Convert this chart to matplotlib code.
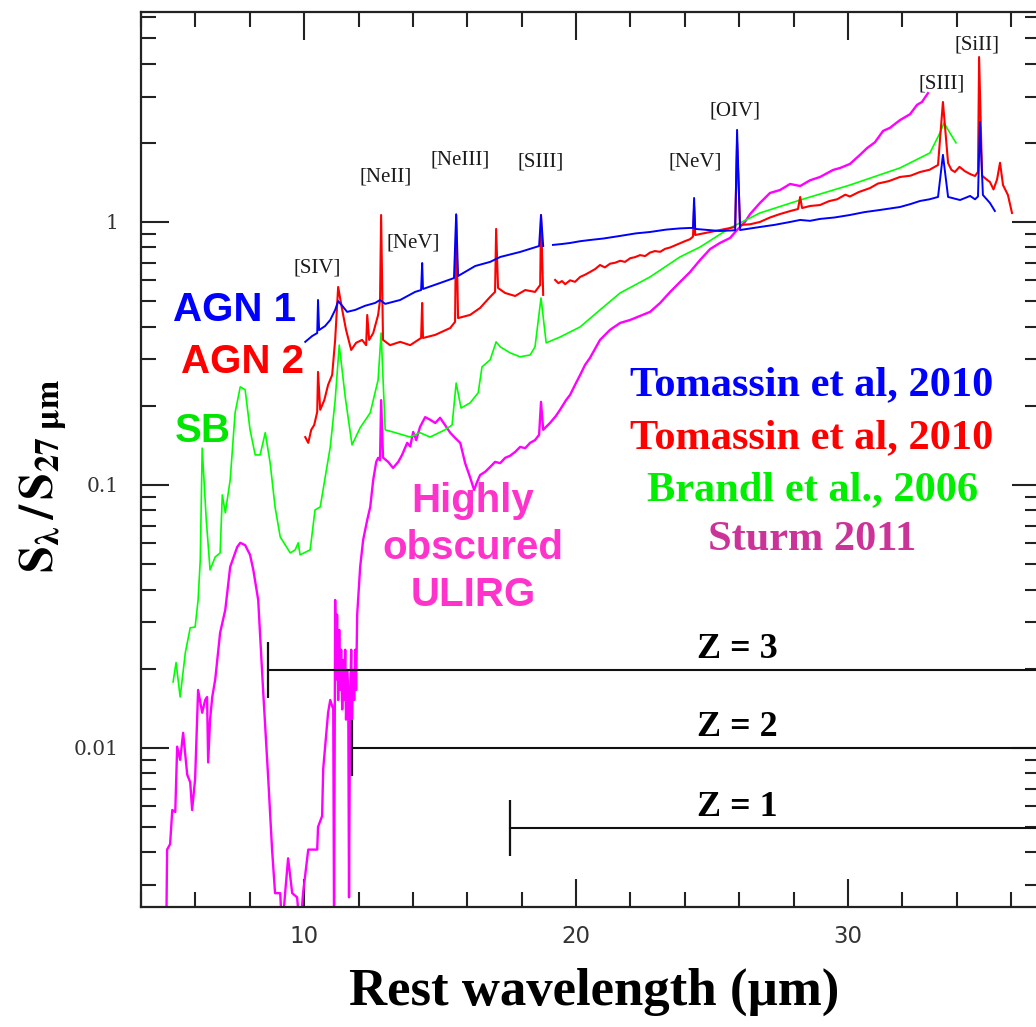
import numpy as np
import matplotlib
matplotlib.use('Agg')
import matplotlib.pyplot as plt
from matplotlib.ticker import MultipleLocator, LogLocator, FixedLocator, FixedFormatter, NullFormatter

plt.rcParams['mathtext.fontset'] = 'stix'

nan = np.nan

# AGN 1 (Tomassin et al 2010), blue
agn1_wl = [10.04, 10.29, 10.48, 10.51, 10.55, 10.77, 10.96, 11.14,
           11.25, 11.40, 11.58, 11.88, 12.24, 12.61, 12.79, 12.98,
           13.53, 14.08, 14.30, 14.34, 14.37, 15.00, 15.51, 15.59,
           15.66, 16.29, 16.84, 17.21, 17.94, 18.64, 18.71, 18.79,
           nan, 19.15, 19.50, 19.78, 20.15, 20.51, 21.00, 21.62,
           22.20, 22.72, 23.30, 23.80, 24.19, 24.30, 24.34, 24.38,
           25.29, 25.85, 25.92, 26.03, 26.76, 27.30, 27.87, 28.24,
           28.60, 28.97, 29.50, 30.07, 30.60, 31.18, 31.91, 32.30,
           32.65, 33.00, 33.31, 33.49, 33.68, 34.12, 34.49, 34.67,
           34.78, 34.85, 34.96, 35.22, 35.40]
agn1_flux = [0.350, 0.368, 0.378, 0.505, 0.388, 0.402, 0.424, 0.463,
             0.500, 0.480, 0.455, 0.463, 0.480, 0.492, 0.505, 0.488,
             0.505, 0.542, 0.551, 0.698, 0.556, 0.586, 0.612, 1.070,
             0.623, 0.680, 0.705, 0.736, 0.769, 0.810, 1.063, 0.810,
             nan, 0.818, 0.825, 0.832, 0.845, 0.854, 0.865, 0.885,
             0.905, 0.916, 0.935, 0.945, 0.949, 0.949, 1.234, 0.941,
             0.924, 0.930, 2.240, 0.932, 0.957, 0.975, 1.000, 1.018,
             1.010, 1.027, 1.040, 1.063, 1.090, 1.111, 1.140, 1.170,
             1.202, 1.220, 1.245, 1.800, 1.245, 1.212, 1.256, 1.220,
             1.250, 2.400, 1.267, 1.181, 1.101]

# AGN 2 (Tomassin et al 2010), red
agn2_wl = [10.04, 10.15, 10.26, 10.37, 10.48, 10.51, 10.59, 10.74,
           10.88, 11.03, 11.14, 11.25, 11.40, 11.54, 11.73, 11.91,
           12.13, 12.28, 12.32, 12.39, 12.54, 12.72, 12.79, 12.83,
           12.90, 13.16, 13.53, 13.90, 14.30, 14.34, 14.37, 14.82,
           15.37, 15.55, 15.59, 15.66, 16.10, 16.47, 16.84, 17.02,
           17.06, 17.13, 17.39, 17.76, 18.13, 18.49, 18.68, 18.71,
           18.79, nan, 19.23, 19.35, 19.48, 19.60, 19.78, 19.96,
           20.15, 20.33, 20.51, 20.70, 20.88, 21.06, 21.25, 21.44,
           21.62, 21.80, 21.99, 22.17, 22.35, 22.54, 22.72, 22.90,
           23.09, 23.27, 23.46, 23.64, 23.82, 24.00, 24.19, 24.30,
           24.34, 24.38, 25.29, 25.85, 25.92, 26.03, 26.40, 26.76,
           27.13, 27.50, 27.87, 28.16, 28.24, 28.31, 28.60, 28.97,
           29.30, 29.60, 29.90, 30.07, 30.40, 30.81, 31.10, 31.50,
           31.91, 32.30, 32.65, 33.00, 33.31, 33.49, 33.68, 33.80,
           33.93, 34.10, 34.30, 34.50, 34.67, 34.78, 34.82, 34.93,
           35.10, 35.22, 35.35, 35.48, 35.59, 35.70, 35.88, 36.03]
agn2_flux = [0.152, 0.1445, 0.162, 0.169, 0.1895, 0.269, 0.193, 0.210,
             0.240, 0.262, 0.356, 0.566, 0.463, 0.389, 0.326, 0.347,
             0.356, 0.340, 0.443, 0.356, 0.378, 0.443, 0.505, 1.063,
             0.356, 0.340, 0.350, 0.340, 0.362, 0.492, 0.362, 0.372,
             0.395, 0.417, 1.063, 0.431, 0.443, 0.471, 0.519, 0.542,
             0.941, 0.561, 0.537, 0.523, 0.551, 0.542, 0.576, 1.063,
             0.528, nan, 0.602, 0.585, 0.596, 0.580, 0.600, 0.592,
             0.618, 0.630, 0.645, 0.662, 0.686, 0.672, 0.694, 0.700,
             0.712, 0.705, 0.728, 0.735, 0.748, 0.742, 0.765, 0.775,
             0.770, 0.790, 0.800, 0.815, 0.830, 0.845, 0.860, 0.880,
             1.140, 0.892, 0.932, 0.957, 2.010, 0.974, 0.980, 1.000,
             1.040, 1.072, 1.100, 1.120, 1.245, 1.130, 1.150, 1.160,
             1.200, 1.220, 1.270, 1.250, 1.300, 1.346, 1.400, 1.430,
             1.483, 1.500, 1.549, 1.580, 1.647, 2.860, 1.676, 1.580,
             1.549, 1.620, 1.560, 1.520, 1.496, 1.550, 4.240, 1.500,
             1.450, 1.419, 1.330, 1.450, 1.680, 1.382, 1.267, 1.082]

# Starburst (Brandl et al. 2006), green
sb_wl = [5.18, 5.29, 5.44, 5.63, 5.81, 5.99, 6.10, 6.18,
         6.25, 6.40, 6.54, 6.73, 6.91, 6.99, 7.10, 7.28,
         7.46, 7.65, 7.83, 8.01, 8.20, 8.38, 8.57, 8.75,
         8.93, 9.12, 9.49, 9.67, 9.78, 9.85, 10.22, 10.40,
         10.59, 10.96, 11.14, 11.29, 11.51, 11.76, 12.06, 12.43,
         12.72, 12.83, 12.98, 13.35, 13.90, 14.26, 14.63, 15.18,
         15.44, 15.59, 15.77, 16.10, 16.40, 16.54, 16.84, 17.06,
         17.21, 17.57, 17.94, 18.31, 18.49, 18.71, 18.90, 19.41,
         20.15, 20.88, 21.62, 22.72, 23.82, 24.56, 25.66, 26.76,
         28.24, 30.07, 31.91, 33.01, 33.38, 33.53, 33.75, 33.97]
sb_flux = [0.0178, 0.0211, 0.0156, 0.0230, 0.0286, 0.0288, 0.0365, 0.0519,
           0.138, 0.0736, 0.0475, 0.0532, 0.0551, 0.0916, 0.0783, 0.1045,
           0.188, 0.236, 0.230, 0.162, 0.130, 0.130, 0.158, 0.121,
           0.0824, 0.0634, 0.0551, 0.0566, 0.0602, 0.0542, 0.0566, 0.0803,
           0.0824, 0.1394, 0.210, 0.340, 0.216, 0.142, 0.165, 0.188,
           0.251, 0.378, 0.162, 0.158, 0.152, 0.158, 0.152, 0.162,
           0.169, 0.244, 0.196, 0.205, 0.224, 0.281, 0.299, 0.350,
           0.335, 0.318, 0.307, 0.312, 0.335, 0.514, 0.347, 0.365,
           0.399, 0.463, 0.537, 0.618, 0.736, 0.803, 0.949, 1.082,
           1.212, 1.382, 1.605, 1.830, 2.180, 2.380, 2.180, 2.000]

# Highly obscured ULIRG (Sturm 2011), magenta
ulirg_wl = [4.93, 4.96, 5.07, 5.15, 5.26, 5.33, 5.44, 5.55,
            5.70, 5.81, 5.88, 5.99, 6.10, 6.25, 6.36, 6.43,
            6.47, 6.54, 6.62, 6.73, 6.91, 7.10, 7.28, 7.54,
            7.65, 7.83, 8.01, 8.13, 8.31, 8.49, 8.68, 8.82,
            8.93, 9.12, 9.19, 9.30, 9.41, 9.56, 9.74, 9.85,
            9.96, 10.15, 10.33, 10.48, 10.51, 10.66, 10.70, 10.88,
            10.96, 11.07, 11.10, 11.14, 11.18, 11.21, 11.25, 11.29,
            11.32, 11.36, 11.40, 11.43, 11.47, 11.51, 11.54, 11.58,
            11.62, 11.65, 11.69, 11.73, 11.76, 11.80, 11.84, 11.88,
            11.91, 11.95, 12.06, 12.17, 12.32, 12.43, 12.54, 12.65,
            12.72, 12.79, 12.83, 12.90, 13.09, 13.27, 13.46, 13.60,
            13.79, 13.90, 14.01, 14.12, 14.26, 14.45, 14.63, 14.82,
            15.00, 15.18, 15.37, 15.55, 15.74, 15.92, 16.10, 16.25,
            16.36, 16.47, 16.65, 16.84, 17.02, 17.21, 17.39, 17.57,
            17.76, 17.94, 18.13, 18.31, 18.49, 18.64, 18.71, 18.79,
            19.04, 19.26, 19.41, 19.63, 19.78, 19.96, 20.15, 20.33,
            20.51, 20.88, 21.25, 21.62, 21.99, 22.35, 22.72, 23.09,
            23.46, 23.82, 24.19, 24.56, 24.93, 25.29, 25.66, 25.92,
            26.21, 26.40, 26.76, 27.13, 27.50, 27.87, 28.24, 28.60,
            28.97, 29.45, 29.71, 30.07, 30.44, 30.70, 30.99, 31.29,
            31.54, 31.91, 32.28, 32.54, 32.72, 32.94]
ulirg_flux = [0.0020, 0.0041, 0.0043, 0.0058, 0.0057, 0.0101, 0.0090, 0.0114,
              0.0079, 0.0074, 0.0058, 0.0076, 0.0166, 0.0136, 0.0152, 0.0156,
              0.0088, 0.0128, 0.0156, 0.0182, 0.0274, 0.0335, 0.0488, 0.0581,
              0.0602, 0.0590, 0.0542, 0.0475, 0.0365, 0.0166, 0.0076, 0.0041,
              0.0028, 0.0028, 0.0020, 0.0028, 0.0038, 0.0028, 0.0027, 0.0020,
              0.0028, 0.0041, 0.0041, 0.0041, 0.0050, 0.0055, 0.0083, 0.0136,
              0.0152, 0.0140, 0.0020, 0.0365, 0.0182, 0.0321, 0.0152, 0.0281,
              0.0166, 0.0236, 0.0140, 0.0216, 0.0152, 0.0236, 0.0128, 0.0198,
              0.0166, 0.0027, 0.0152, 0.0236, 0.0128, 0.0198, 0.0152, 0.0236,
              0.0166, 0.0321, 0.0488, 0.0618, 0.0736, 0.0824, 0.1045, 0.1223,
              0.1267, 0.124, 0.210, 0.127, 0.1223, 0.116, 0.1223, 0.130,
              0.1445, 0.140, 0.159, 0.148, 0.166, 0.181, 0.177, 0.172,
              0.180, 0.169, 0.158, 0.151, 0.1445, 0.121, 0.107, 0.0957,
              0.1026, 0.109, 0.112, 0.117, 0.1223, 0.121, 0.1267, 0.129,
              0.1335, 0.1394, 0.138, 0.1445, 0.148, 0.155, 0.207, 0.162,
              0.172, 0.183, 0.193, 0.210, 0.220, 0.240, 0.262, 0.286,
              0.304, 0.356, 0.389, 0.413, 0.424, 0.439, 0.455, 0.492,
              0.542, 0.591, 0.645, 0.717, 0.789, 0.832, 0.869, 0.932,
              1.000, 1.072, 1.181, 1.289, 1.323, 1.395, 1.370, 1.440,
              1.483, 1.577, 1.605, 1.662, 1.800, 1.910, 2.010, 2.220,
              2.280, 2.440, 2.570, 2.790, 2.860, 3.090]

# emission line labels
line_names = ['[SIV]', '[NeII]', '[NeV]', '[NeIII]', '[SIII]',
              '[NeV]', '[OIV]', '[SIII]', '[SiII]']
line_x = [10.48, 12.98, 14.0, 15.74, 18.71, 24.38, 25.85, 33.46, 34.74]
line_y = [0.668, 1.483, 0.832, 1.72, 1.69, 1.69, 2.64, 3.35, 4.71]

# redshift coverage bars
z_labels = ['Z = 3', 'Z = 2', 'Z = 1']
z_start = [8.68, 11.76, 17.57]
z_level = [0.0198, 0.0100, 0.00497]

ref_labels = ['Tomassin et al, 2010', 'Tomassin et al, 2010',
              'Brandl et al., 2006', 'Sturm 2011']
ref_colors = ['#0000ff', '#ff0000', '#00ee00', '#cc3399']
ref_y = [0.240, 0.150, 0.0957, 0.0618]

xmin, xmax = 4.0, 37.06

fig = plt.figure(figsize=(10.36, 10.27), dpi=100)
ax = fig.add_axes([141 / 1036, 120 / 1027, 899 / 1036, 895 / 1027])
ax.set_yscale('log')
ax.set_xlim(xmin, xmax)
ax.set_ylim(0.00248, 6.29)

ax.plot(ulirg_wl, ulirg_flux, color='#ff00ff', lw=1.7)
ax.plot(sb_wl, sb_flux, color='#00ff00', lw=1.2)
ax.plot(agn2_wl, agn2_flux, color='#ff0000', lw=1.5)
ax.plot(agn1_wl, agn1_flux, color='#0000ff', lw=1.4)

for name, x, y in zip(line_names, line_x, line_y):
    ax.text(x, y, name, ha='center', va='center', fontsize=15,
            family='Liberation Serif', color='#1a1a1a')

for lab, x0, lev in zip(z_labels, z_start, z_level):
    ax.plot([x0, xmax], [lev, lev], color='#111111', lw=1.5)
    ax.plot([x0], [lev], marker='|', ms=40, mew=1.6, color='#111111')
    ax.text(25.92, lev * 1.19, lab, ha='center', va='center', fontsize=26,
            family='Liberation Serif', weight='bold', color='black')

sans = 'Liberation Sans'
ax.text(5.18, 0.463, 'AGN 1', color='#0000ff', fontsize=29, weight='bold',
        family=sans, ha='left', va='center')
ax.text(5.48, 0.294, 'AGN 2', color='#ff0000', fontsize=29, weight='bold',
        family=sans, ha='left', va='center')
ax.text(5.26, 0.160, 'SB', color='#00e600', fontsize=29, weight='bold',
        family=sans, ha='left', va='center')
ax.text(16.20, 0.0575, 'Highly\nobscured\nULIRG', color='#ff33cc', fontsize=29,
        weight='bold', family=sans, ha='center', va='center',
        multialignment='center', linespacing=1.3)

for lab, col, y in zip(ref_labels, ref_colors, ref_y):
    ax.text(28.68, y, lab, color=col, fontsize=30.5, weight='bold',
            family='Liberation Serif', ha='center', va='center')

# ticks
ax.xaxis.set_major_locator(FixedLocator([10, 20, 30]))
ax.xaxis.set_minor_locator(MultipleLocator(2))
ax.yaxis.set_major_locator(FixedLocator([0.01, 0.1, 1]))
ax.yaxis.set_major_formatter(FixedFormatter(['0.01', '0.1', '1']))
ax.yaxis.set_minor_locator(LogLocator(base=10, subs=np.arange(2, 10)))
ax.yaxis.set_minor_formatter(NullFormatter())
ax.tick_params(which='both', direction='in', top=True, right=True,
               color='#222222', width=1.5)
ax.tick_params(which='major', length=20)
ax.tick_params(which='minor', length=11)
ax.tick_params(axis='x', which='major', pad=13, labelsize=16.5,
               labelcolor='#333333')
ax.tick_params(axis='y', which='major', pad=16, labelsize=14.5,
               labelcolor='#333333')
for t in ax.get_yticklabels():
    t.set_family('DejaVu Serif')
for s in ax.spines.values():
    s.set_linewidth(1.6)
    s.set_color('#222222')

fig.text(43 / 1036, 1 - 476 / 1027,
         r'$\mathbf{S_{\lambda}\,/\,S_{27\ \mu m}}$',
         rotation=90, ha='center', va='center', fontsize=35)
fig.text(594 / 1036, 1 - 992 / 1027, 'Rest wavelength (\u00b5m)',
         ha='center', va='center', fontsize=38, weight='bold',
         family='Liberation Serif')

fig.savefig('out.png', dpi=100)
